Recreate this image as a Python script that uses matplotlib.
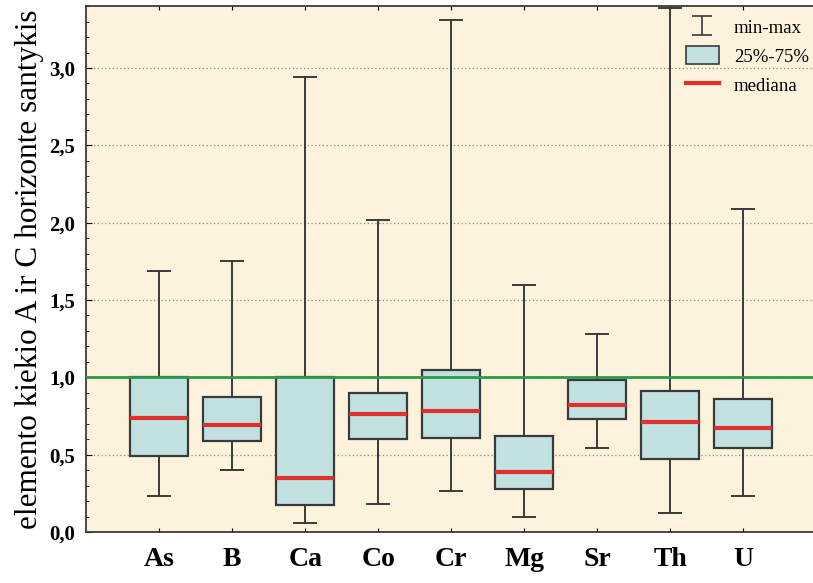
import numpy as np
import matplotlib.pyplot as plt
from matplotlib.lines import Line2D
from matplotlib.patches import Patch
from matplotlib.ticker import MultipleLocator, FuncFormatter

elements = ["As", "B", "Ca", "Co", "Cr", "Mg", "Sr", "Th", "U"]
mins = [0.23, 0.40, 0.06, 0.18, 0.265, 0.10, 0.54, 0.12, 0.23]
q1 = [0.49, 0.59, 0.175, 0.60, 0.605, 0.276, 0.73, 0.47, 0.54]
medians = [0.74, 0.69, 0.35, 0.76, 0.78, 0.39, 0.82, 0.71, 0.67]
q3 = [1.00, 0.87, 1.00, 0.90, 1.05, 0.62, 0.985, 0.91, 0.86]
maxs = [1.69, 1.75, 2.94, 2.02, 3.31, 1.60, 1.28, 3.39, 2.09]

plt.rcParams["font.family"] = ["Liberation Serif", "DejaVu Serif"]

bg = "#fdf3dc"
box_fill = "#c0e1df"
edge = "#3a3a3a"
red = "#e0302c"
green = "#2a9a48"

stats = []
for i in range(len(elements)):
    stats.append({
        "label": elements[i],
        "whislo": mins[i],
        "q1": q1[i],
        "med": medians[i],
        "q3": q3[i],
        "whishi": maxs[i],
    })

fig = plt.figure(figsize=(8.13, 5.83), dpi=100)
ax = fig.add_axes([0.106, 0.0875, 0.898, 0.902])
ax.set_facecolor(bg)

positions = np.arange(1, len(elements) + 1)
ax.bxp(stats, positions=positions, widths=0.8, showfliers=False,
       patch_artist=True,
       boxprops=dict(facecolor=box_fill, edgecolor=edge, linewidth=1.6),
       whiskerprops=dict(color=edge, linewidth=1.4),
       capprops=dict(color=edge, linewidth=1.4),
       medianprops=dict(color=red, linewidth=3),
       capwidths=0.3, zorder=3)

ax.axhline(1.0, color=green, linewidth=2, zorder=4)

ax.set_xlim(0, 10)
ax.set_ylim(0, 3.4)
ax.yaxis.set_major_locator(MultipleLocator(0.5))
ax.yaxis.set_minor_locator(MultipleLocator(0.1))
ax.yaxis.set_major_formatter(FuncFormatter(lambda v, p: f"{v:.1f}".replace(".", ",")))
ax.grid(axis="y", which="major", linestyle=(0, (1, 2)), color="#8a8a8a", linewidth=0.9, zorder=1)
ax.set_axisbelow(True)

ax.tick_params(axis="both", which="both", direction="in", top=True, right=False)
ax.tick_params(axis="y", which="major", length=4, labelsize=15, pad=8)
ax.tick_params(axis="y", which="minor", length=2.5)
ax.tick_params(axis="x", length=3, labelsize=20, pad=11)
for lab in ax.get_yticklabels():
    lab.set_fontweight("bold")
for lab in ax.get_xticklabels():
    lab.set_fontweight("bold")

for s in ax.spines.values():
    s.set_color(edge)
    s.set_linewidth(1.3)

ax.set_ylabel("elemento kiekio A ir C horizonte santykis", fontsize=22.5, labelpad=4)

eb = ax.errorbar([np.nan], [np.nan], yerr=[1], fmt="none", ecolor=edge,
                 elinewidth=1.2, capsize=7, capthick=1.2)
handles = [
    eb,
    Patch(facecolor=box_fill, edgecolor=edge, linewidth=1.2),
    Line2D([], [], color=red, linewidth=3),
]
labels = ["min-max", "25%-75%", "mediana"]
leg = ax.legend(handles, labels, loc="upper right", bbox_to_anchor=(1.013, 1.01),
                frameon=False, fontsize=13.5, handlelength=1.75, handleheight=1.1,
                labelspacing=0.5, handletextpad=0.8)
leg.set_zorder(6)

fig.savefig("out.png", dpi=100, facecolor="white")
